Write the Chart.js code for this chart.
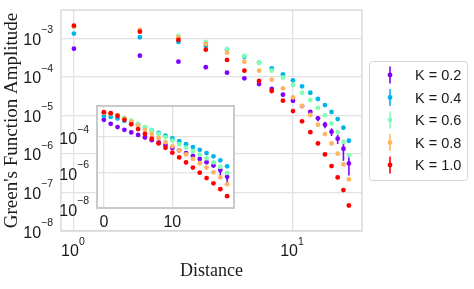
<!DOCTYPE html>
<html><head><meta charset="utf-8">
<script src="https://cdn.jsdelivr.net/npm/chart.js@4/dist/chart.umd.min.js"></script>
<style>
html,body{margin:0;padding:0;background:#fff;}
#wrap{position:relative;width:474px;height:289px;}
canvas{position:absolute;left:0;top:0;}
</style>
</head><body>
<div id="wrap"><canvas id="main" width="474" height="289"></canvas><canvas id="inset" width="474" height="289"></canvas></div>
<script>
// ---- data ----
const distance = [0,1,2,3,4,5,6,7,8,9,10,11,12,13,14,15,16,17,18];
const kLabels = ['K = 0.2','K = 0.4','K = 0.6','K = 0.8','K = 1.0'];
const ampK02 = [9.14e-4,5.37e-4,3.53e-4,2.47e-4,1.77e-4,1.28e-4,9.14e-5,6.50e-5,4.82e-5,3.43e-5,2.39e-5,1.74e-5,1.22e-5,8.36e-6,5.73e-6,3.75e-6,2.48e-6,1.36e-6,5.66e-7];
const ampK04 = [1.53e-3,1.32e-3,1.06e-3,8.02e-4,6.31e-4,5.01e-4,3.31e-4,2.34e-4,1.66e-4,1.16e-4,8.11e-5,5.66e-5,3.86e-5,2.65e-5,1.85e-5,1.22e-5,8.02e-6,4.76e-6,2.19e-6];
const ampK06 = [2.24e-3,1.95e-3,1.62e-3,1.15e-3,8.02e-4,5.28e-4,3.47e-4,2.32e-4,1.44e-4,9.51e-5,6.12e-5,3.86e-5,2.49e-5,1.57e-5,1.00e-5,6.19e-6,3.68e-6,2.06e-6,9.31e-7];
const ampK08 = [2.29e-3,2.04e-3,1.64e-3,1.06e-3,7.11e-4,4.23e-4,2.47e-4,1.44e-4,8.41e-5,5.02e-5,2.94e-5,1.75e-5,1.02e-5,5.70e-6,3.27e-6,1.87e-6,1.01e-6,5.33e-7,2.18e-7];
const ampK10 = [2.43e-3,2.12e-3,1.48e-3,9.04e-4,5.06e-4,2.73e-4,1.44e-4,7.78e-5,4.28e-5,2.40e-5,1.29e-5,6.98e-6,3.66e-6,1.87e-6,9.70e-7,4.82e-7,2.45e-7,1.15e-7,4.59e-8];
const errK02 = [0,0,0,0,0,0,0,0,0,0,0,0,1.0e-6,1.3e-6,1.1e-6,0.84e-6,0.67e-6,0.7e-6,0.29e-6];
const mainYTicks = [1e-8,1e-7,1e-6,1e-5,1e-4,1e-3];
const mainYTickExp = ['−8','−7','−6','−5','−4','−3'];
const mainXTicks = [1,10];
const mainXTickExp = ['0','1'];
const insetYTicks = [1e-8,1e-6,1e-4];
const insetYTickExp = ['−8','−6','−4'];
const insetXTicks = [0,10];
const insetXTickLabels = ['0','10'];
const xTitle = 'Distance';
const yTitle = "Green's Function Amplitude";

// ---- styles ----
const colors = ['#8000ff','#00b5eb','#80ffb4','#ffb462','#ff0000'];
const series = [ampK02, ampK04, ampK06, ampK08, ampK10];
const errs = [errK02, null, null, null, null];
const TXT = '#1a1a1a';
const SANS = "'Liberation Sans', Arial, sans-serif";
const SERIF = "'Liberation Serif', 'Times New Roman', serif";

function makeDatasets(skipZero){
  return series.map((vals, s) => ({
    label: kLabels[s],
    data: distance.map((d,i)=>({x:d, y:vals[i], e: errs[s] ? errs[s][i] : 0})).filter(p => !skipZero || p.x > 0),
    backgroundColor: colors[s], borderColor: colors[s], borderWidth: 0,
    pointRadius: 2.4, pointHoverRadius: 2.4, showLine: false, order: 5 - s
  }));
}

function drawPow(ctx, base, exp, x, y, align, fb, fs, raise){
  ctx.font = fb + 'px ' + SANS;
  const wb = ctx.measureText(base).width;
  ctx.font = fs + 'px ' + SANS;
  const ws = ctx.measureText(exp).width;
  let sx = x;
  if (align === 'right') sx = x - wb - ws;
  else if (align === 'center') sx = x - (wb + ws) / 2;
  ctx.textAlign = 'left'; ctx.textBaseline = 'alphabetic'; ctx.fillStyle = TXT;
  ctx.font = fb + 'px ' + SANS; ctx.fillText(base, sx, y);
  ctx.font = fs + 'px ' + SANS; ctx.fillText(exp, sx + wb, y - raise);
}

const errorBars = {
  id: 'errorBars',
  beforeDatasetDraw(chart, args){
    const ds = chart.data.datasets[args.index];
    const ys = chart.scales.y, ctx = chart.ctx;
    const ca = chart.chartArea;
    ctx.save();
    ctx.beginPath(); ctx.rect(ca.left, ca.top, ca.right-ca.left, ca.bottom-ca.top); ctx.clip();
    ctx.strokeStyle = ds.borderColor; ctx.lineWidth = 1.6;
    args.meta.data.forEach((pt, i) => {
      const p = ds.data[i];
      if (!p.e) return;
      const top = ys.getPixelForValue(p.y + p.e);
      const bot = ys.getPixelForValue(Math.max(p.y - p.e, 1e-12));
      ctx.beginPath(); ctx.moveTo(pt.x, top); ctx.lineTo(pt.x, bot); ctx.stroke();
    });
    ctx.restore();
  }
};

const mainDeco = {
  id: 'mainDeco',
  afterDraw(chart){
    const ctx = chart.ctx, ca = chart.chartArea;
    const xs = chart.scales.x, ys = chart.scales.y;
    ctx.save();
    ctx.strokeStyle = '#d4d4d4'; ctx.lineWidth = 1.3;
    ctx.strokeRect(ca.left, ca.top, ca.right - ca.left, ca.bottom - ca.top);
    mainYTicks.forEach((v,i) => {
      const y = ys.getPixelForValue(v);
      drawPow(ctx, '10', mainYTickExp[i], ca.left - 8, y + 6.5, 'right', 16, 10.5, 11.5);
    });
    mainXTicks.forEach((v,i) => {
      const x = xs.getPixelForValue(v);
      drawPow(ctx, '10', mainXTickExp[i], x - 1, ca.bottom + 25, 'center', 16, 10.5, 11);
    });
    ctx.fillStyle = TXT;
    ctx.font = '18px ' + SERIF; ctx.textAlign = 'center'; ctx.textBaseline = 'middle';
    ctx.fillText(xTitle, (ca.left + ca.right)/2, 271);
    ctx.save();
    ctx.translate(12.5, (ca.top + ca.bottom)/2);
    ctx.rotate(-Math.PI/2);
    ctx.font = '19px ' + SERIF;
    ctx.fillText(yTitle, 0, 0);
    ctx.restore();
    // legend
    const lx = 369.5, ly = 61.5, lw = 98, lh = 119;
    ctx.fillStyle = 'rgba(255,255,255,0.85)'; ctx.strokeStyle = '#d6d6d6'; ctx.lineWidth = 1;
    ctx.beginPath();
    if (ctx.roundRect) ctx.roundRect(lx, ly, lw, lh, 3); else ctx.rect(lx, ly, lw, lh);
    ctx.fill(); ctx.stroke();
    chart.data.datasets.forEach((ds, i) => {
      const cy = 75 + i * 22.5;
      ctx.strokeStyle = ds.borderColor; ctx.lineWidth = 1.6;
      ctx.beginPath(); ctx.moveTo(390, cy - 8.5); ctx.lineTo(390, cy + 8.5); ctx.stroke();
      ctx.fillStyle = ds.backgroundColor;
      ctx.beginPath(); ctx.arc(390, cy, 2.4, 0, Math.PI*2); ctx.fill();
      ctx.fillStyle = TXT; ctx.font = '14.5px ' + SANS; ctx.textAlign = 'left'; ctx.textBaseline = 'middle';
      ctx.fillText(ds.label, 415, cy + 1);
    });
    ctx.restore();
  }
};

const insetDeco = {
  id: 'insetDeco',
  beforeDraw(chart){
    const ctx = chart.ctx, ca = chart.chartArea;
    ctx.save(); ctx.fillStyle = '#fff';
    ctx.fillRect(ca.left, ca.top, ca.right - ca.left, ca.bottom - ca.top);
    ctx.restore();
  },
  afterDraw(chart){
    const ctx = chart.ctx, ca = chart.chartArea;
    const xs = chart.scales.x, ys = chart.scales.y;
    ctx.save();
    ctx.strokeStyle = '#cacaca'; ctx.lineWidth = 2;
    ctx.strokeRect(ca.left, ca.top, ca.right - ca.left, ca.bottom - ca.top);
    insetYTicks.forEach((v,i) => {
      const y = ys.getPixelForValue(v);
      drawPow(ctx, '10', insetYTickExp[i], ca.left - 8, y + 7.5, 'right', 16, 10.5, 11.5);
    });
    insetXTicks.forEach((v,i) => {
      const x = xs.getPixelForValue(v);
      ctx.fillStyle = TXT; ctx.font = '16px ' + SANS; ctx.textAlign = 'center'; ctx.textBaseline = 'alphabetic';
      ctx.fillText(insetXTickLabels[i], x, ca.bottom + 19);
    });
    ctx.restore();
  }
};

const gridOpt = { color: '#e2e2e2', lineWidth: 1.3, drawTicks: false };

new Chart(document.getElementById('main'), {
  type: 'scatter',
  data: { datasets: makeDatasets(true) },
  options: {
    responsive: false, animation: false, devicePixelRatio: 1,
    layout: { padding: { left: 61, top: 10, right: 112, bottom: 58 } },
    plugins: { legend: { display: false }, tooltip: { enabled: false } },
    scales: {
      x: { type: 'logarithmic', min: 0.873, max: 20.66, ticks: { display: false }, grid: gridOpt, border: { display: false },
           afterBuildTicks: s => { s.ticks = mainXTicks.map(v => ({ value: v })); } },
      y: { type: 'logarithmic', min: 1e-8, max: 5.4e-3, ticks: { display: false }, grid: gridOpt, border: { display: false },
           afterBuildTicks: s => { s.ticks = mainYTicks.map(v => ({ value: v })); } }
    }
  },
  plugins: [errorBars, mainDeco]
});

new Chart(document.getElementById('inset'), {
  type: 'scatter',
  data: { datasets: makeDatasets(false) },
  options: {
    responsive: false, animation: false, devicePixelRatio: 1,
    layout: { padding: { left: 97, top: 106, right: 474 - 234, bottom: 289 - 208 } },
    plugins: { legend: { display: false }, tooltip: { enabled: false } },
    scales: {
      x: { type: 'linear', min: -1, max: 19, ticks: { display: false }, grid: gridOpt, border: { display: false },
           afterBuildTicks: s => { s.ticks = insetXTicks.map(v => ({ value: v })); } },
      y: { type: 'logarithmic', min: 1e-8, max: 5.4e-3, ticks: { display: false }, grid: gridOpt, border: { display: false },
           afterBuildTicks: s => { s.ticks = insetYTicks.map(v => ({ value: v })); } }
    }
  },
  plugins: [insetDeco, errorBars]
});
</script>
</body></html>
